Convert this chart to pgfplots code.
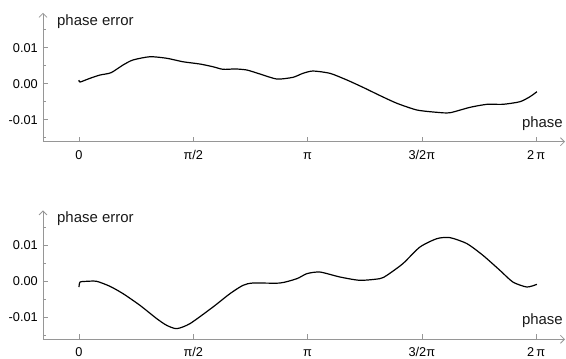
\documentclass[border=0pt]{standalone}
\usepackage{fontspec}
\setmainfont{Liberation Sans}
\usepackage{pgfplots}
\pgfplotsset{compat=1.18}
\usetikzlibrary{arrows.meta}
\definecolor{axgray}{RGB}{150,150,150}

\pgfplotstableread{
x y
0.000 0.00103
0.014 0.00047
0.150 0.00150
0.289 0.00242
0.440 0.00306
0.605 0.00520
0.742 0.00660
0.976 0.00750
1.209 0.00706
1.429 0.00610
1.663 0.00547
1.841 0.00472
1.979 0.00400
2.150 0.00410
2.309 0.00380
2.487 0.00270
2.721 0.00130
2.941 0.00178
3.078 0.00289
3.216 0.00353
3.449 0.00289
3.683 0.00103
3.903 -0.00100
4.136 -0.00328
4.370 -0.00544
4.645 -0.00730
4.920 -0.00794
5.098 -0.00806
5.373 -0.00656
5.607 -0.00572
5.827 -0.00572
6.060 -0.00500
6.198 -0.00361
6.294 -0.00222
}\topdata

\pgfplotstableread{
x y
0.000 -0.00158
0.014 -0.00020
0.106 0.00000
0.243 0.00000
0.426 -0.00139
0.605 -0.00342
0.838 -0.00667
1.068 -0.01036
1.205 -0.01222
1.343 -0.01314
1.525 -0.01175
1.841 -0.00714
2.075 -0.00342
2.254 -0.00111
2.391 -0.00047
2.762 -0.00047
2.996 0.00075
3.133 0.00214
3.312 0.00258
3.587 0.00120
3.862 0.00028
4.136 0.00075
4.232 0.00167
4.452 0.00492
4.686 0.00953
4.920 0.01186
5.098 0.01214
5.332 0.01047
5.552 0.00722
5.785 0.00306
5.964 -0.00020
6.156 -0.00158
6.294 -0.00083
}\botdata

\pgfplotsset{
  pe/.style={
    scale only axis, width=522bp, height=128.9bp,
    xmin=-0.495, xmax=6.68, ymin=-0.0161, ymax=0.0197,
    axis x line=bottom, axis y line=left,
    axis line style={axgray, line width=0.8bp, -{Straight Barb[length=4bp,width=8bp]}},
    xtick={0,1.5708,3.14159,4.71239,6.28319},
    xticklabels={0, π/2, π, 3/2π, 2\,π},
    ytick={-0.01,0,0.01}, yticklabels={-0.01,0.00,0.01},
    scaled y ticks=false,
    minor ytick={-0.015,-0.005,0.005,0.015},
    tick align=inside, major tick length=5bp, minor tick length=3bp,
    every tick/.style={axgray, line width=0.6bp},
    tick label style={font=\fontsize{12.8}{14}\selectfont, text=black},
    xticklabel style={anchor=base, inner sep=1bp, yshift=-17.5bp},
    yticklabel style={anchor=east, inner sep=0pt, xshift=-5bp},
    xlabel={phase},
    xlabel style={at={(axis description cs:0.996,0.143)}, anchor=east, inner sep=0pt, font=\fontsize{15}{17}\selectfont, text=black!90},
    ylabel={phase error},
    ylabel style={rotate=-90, at={(axis description cs:0.0268,0.934)}, anchor=west, inner sep=0pt, font=\fontsize{15}{17}\selectfont, text=black!90},
    clip=false,
  }
}

\begin{document}
\begin{tikzpicture}
\begin{axis}[pe, at={(43bp,217.3bp)}, anchor=south west]
\addplot[black, line width=1.2bp, smooth, tension=0.4] table[x=x,y=y] {\topdata};
\end{axis}
\begin{axis}[pe, at={(43bp,19.7bp)}, anchor=south west]
\addplot[black, line width=1.2bp, smooth, tension=0.4] table[x=x,y=y] {\botdata};
\end{axis}
\pgfresetboundingbox
\useasboundingbox (0,0) rectangle (566bp,359bp);
\end{tikzpicture}
\end{document}
